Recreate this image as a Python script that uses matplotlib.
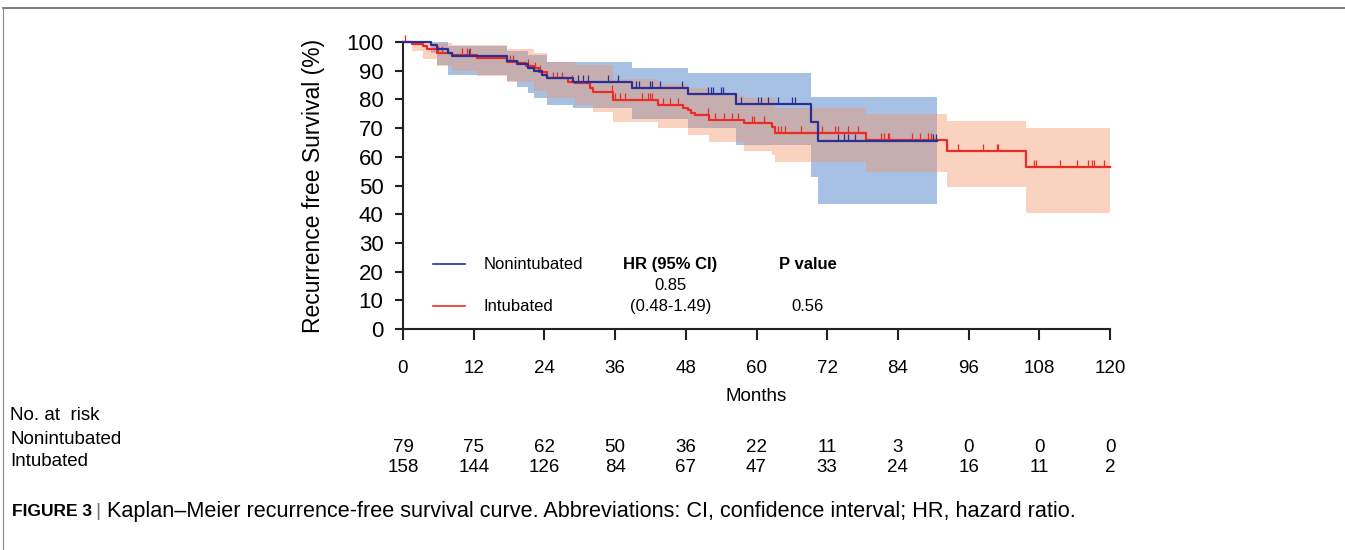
import numpy as np
import matplotlib
matplotlib.use("Agg")
import matplotlib.pyplot as plt
from matplotlib.lines import Line2D
from matplotlib.transforms import blended_transform_factory

plt.rcParams['font.family'] = ['Liberation Sans', 'DejaVu Sans']

# ---- data (months, % recurrence free) ----
months_ticks = [0, 12, 24, 36, 48, 60, 72, 84, 96, 108, 120]

non_t = [0, 4.8, 5.8, 7.6, 8.3, 17.7, 19.4, 21.2, 22.2, 23.6, 24.5, 28.9, 38.9, 48.3, 56.6, 69.2, 70.4]
non_s = [100, 99.0, 97.5, 96.2, 95.0, 93.4, 92.4, 91.0, 89.8, 88.5, 87.4, 86.2, 83.9, 81.9, 78.3, 72.2, 65.5]
non_end = 90.6
non_up_t = [0, 7.6, 17.7, 21.2, 24.5, 38.9, 48.3, 69.2]
non_up = [100, 98.6, 97.0, 95.5, 93.1, 91.0, 89.1, 81.0]
non_lo_t = [0, 4.8, 5.8, 7.6, 17.7, 19.4, 21.2, 22.2, 24.5, 28.9, 38.9, 48.3, 56.6, 69.2, 70.4]
non_lo = [100, 96.0, 92.0, 88.5, 86.5, 84.4, 82.2, 80.5, 78.0, 77.0, 73.0, 70.0, 64.0, 53.0, 43.5]
non_cens = [11.2, 29.7, 30.6, 31.4, 34.8, 36.5, 39.6, 40.1, 42.0, 42.3, 43.7, 47.4,
            51.7, 52.2, 52.7, 53.9, 54.3, 57.3, 60.3, 60.7, 62.0, 63.6, 66.1, 66.6,
            73.9, 74.8, 75.6, 76.8, 89.9, 90.4]

int_t = [0, 1.5, 3.4, 4.1, 5.8, 8.3, 12.6, 17.7, 19.6, 20.9, 22.2, 23.1, 24.5, 28.0, 29.2,
         31.8, 32.3, 35.7, 43.3, 47.6, 48.3, 48.8, 49.6, 51.9, 57.8, 62.7, 63.2, 78.6, 92.3, 105.7]
int_s = [100, 99.4, 98.6, 97.6, 96.2, 95.6, 94.3, 93.1, 92.6, 91.6, 90.8, 89.5, 87.3, 86.2, 85.6,
         84.1, 82.7, 79.8, 78.0, 76.9, 76.3, 75.3, 74.6, 72.8, 71.7, 70.5, 68.2, 65.9, 62.1, 56.6]
int_end = 120
int_up_t = [0, 4.1, 8.3, 17.7, 22.2, 24.5, 29.2, 35.7, 43.3, 48.3, 51.9, 57.8, 63.2, 78.6, 92.3, 105.7]
int_up = [100, 99.5, 98.8, 97.5, 96.0, 93.0, 92.0, 87.0, 85.5, 84.0, 81.5, 80.5, 77.0, 75.0, 72.6, 70.0]
int_lo_t = [0, 1.5, 3.4, 5.8, 8.3, 12.6, 17.7, 22.2, 24.5, 29.2, 32.3, 35.7, 43.3, 48.3, 51.9,
            57.8, 62.7, 63.2, 78.6, 92.3, 105.7]
int_lo = [100, 97.0, 94.0, 91.5, 90.0, 88.0, 86.0, 83.0, 80.5, 78.0, 75.5, 72.0, 70.0, 67.5, 65.3,
          62.0, 60.5, 58.3, 54.8, 49.4, 40.4]
int_cens = [0.3, 6.0, 6.6, 10.0, 10.9, 11.4, 18.2, 18.7, 21.2, 22.4, 23.3, 25.5, 26.2, 27.0, 28.7,
            35.5, 36.0, 36.9, 37.7, 40.6, 41.5, 42.0, 42.3, 44.2, 45.4, 46.6, 51.7, 53.0, 54.4,
            55.9, 56.9, 59.3, 59.6, 61.2, 63.6, 64.1, 64.9, 67.5, 70.5, 71.2, 73.4, 73.9, 75.5,
            77.2, 81.2, 81.6, 82.3, 82.5, 86.4, 87.7, 89.1, 89.6, 92.3, 94.2, 98.4, 100.8, 101.0,
            107.1, 107.4, 111.5, 114.4, 116.3, 117.0, 117.3, 119.0]

at_risk_non = [79, 75, 62, 50, 36, 22, 11, 3, 0, 0, 0]
at_risk_int = [158, 144, 126, 84, 67, 47, 33, 24, 16, 11, 2]

BLUE = '#2b2f93'
RED = '#ec2c24'
BLUE_FILL = '#a7c1e4'
RED_FILL = '#f39469'


def step_at(times, vals, x):
    idx = np.searchsorted(times, x, side='right') - 1
    return np.asarray(vals)[idx]


def band(ax, up_t, up, lo_t, lo, end, color, alpha):
    grid = np.unique(np.concatenate([up_t, lo_t, [end]]))
    ax.fill_between(grid, step_at(lo_t, lo, grid), step_at(up_t, up, grid),
                    step='post', color=color, alpha=alpha, lw=0)


def curve(ax, t, s, end, cens, color):
    tt = np.append(t, end)
    ss = np.append(s, s[-1])
    ax.step(tt, ss, where='post', color=color, lw=1.6, clip_on=False, zorder=5)
    c = np.asarray(cens)
    y = step_at(t, s, c)
    ax.vlines(c, y, y + 2.4, color=color, lw=0.9, clip_on=False, zorder=5)


fig = plt.figure(figsize=(13.45, 5.5), dpi=100)
ax = fig.add_axes([403 / 1345, (550 - 329) / 550, 707 / 1345, 287 / 550])

band(ax, non_up_t, non_up, non_lo_t, non_lo, non_end, BLUE_FILL, 1.0)
band(ax, int_up_t, int_up, int_lo_t, int_lo, int_end, RED_FILL, 0.42)
curve(ax, int_t, int_s, int_end, int_cens, RED)
curve(ax, non_t, non_s, non_end, non_cens, BLUE)

ax.set_xlim(0, 120)
ax.set_ylim(0, 100)
ax.set_xticks(months_ticks)
ax.set_yticks(range(0, 101, 10))
for side in ['top', 'right']:
    ax.spines[side].set_visible(False)
for side in ['left', 'bottom']:
    ax.spines[side].set_linewidth(1.5)
    ax.spines[side].set_color('#222222')
ax.tick_params(axis='x', length=8, width=1.5, pad=14, labelsize=13.5, color='#222222')
ax.tick_params(axis='y', length=6, width=1.5, pad=8, labelsize=16, color='#222222')

ax.set_ylabel('Recurrence free Survival (%)', fontsize=16.5)
ax.yaxis.set_label_coords(-0.110, 0.5)
ax.set_xlabel('Months', fontsize=13.5)
ax.xaxis.set_label_coords(0.5, -0.205)

# legend + HR box
ax.plot([5.1, 10.5], [22.6, 22.6], color=BLUE, lw=1.2)
ax.plot([5.1, 10.5], [8.0, 8.0], color=RED, lw=1.2)
ax.text(13.6, 22.3, 'Nonintubated', fontsize=12, va='center')
ax.text(13.6, 7.7, 'Intubated', fontsize=12, va='center')
ax.text(45.4, 22.3, 'HR (95% CI)', fontsize=12, fontweight='bold', ha='center', va='center')
ax.text(45.4, 15.3, '0.85', fontsize=12, ha='center', va='center')
ax.text(45.4, 8.0, '(0.48-1.49)', fontsize=12, ha='center', va='center')
ax.text(68.7, 22.3, 'P value', fontsize=12, fontweight='bold', ha='center', va='center')
ax.text(68.7, 8.0, '0.56', fontsize=12, ha='center', va='center')

# number at risk table
tr = blended_transform_factory(ax.transData, fig.transFigure)
for m, a, b in zip(months_ticks, at_risk_non, at_risk_int):
    ax.text(m, (550 - 447) / 550, str(a), transform=tr, ha='center', va='center', fontsize=13.5)
    ax.text(m, (550 - 467) / 550, str(b), transform=tr, ha='center', va='center', fontsize=13.5)
fig.text(10 / 1345, (550 - 416) / 550, 'No. at  risk', fontsize=13.5, va='center')
fig.text(10 / 1345, (550 - 440) / 550, 'Nonintubated', fontsize=13.5, va='center')
fig.text(10 / 1345, (550 - 462) / 550, 'Intubated', fontsize=13.5, va='center')

# caption
cy = (550 - 512) / 550
fig.text(12 / 1345, cy, 'FIGURE 3', fontsize=12.5, fontweight='bold', va='center')
fig.text(95 / 1345, cy, '|', fontsize=14, color='#777777', va='center')
fig.text(107 / 1345, cy, 'Kaplan\u2013Meier recurrence-free survival curve. Abbreviations: CI, '
         'confidence interval; HR, hazard ratio.', fontsize=15.6, va='center')

# page frame
fig.add_artist(Line2D([3 / 1345, 1], [1 - 8 / 550, 1 - 8 / 550], color='#666666', lw=1.2,
                      transform=fig.transFigure))
fig.add_artist(Line2D([3 / 1345, 3 / 1345], [0, 1 - 8 / 550], color='#888888', lw=0.8,
                      transform=fig.transFigure))

fig.savefig('out.png', dpi=100)
